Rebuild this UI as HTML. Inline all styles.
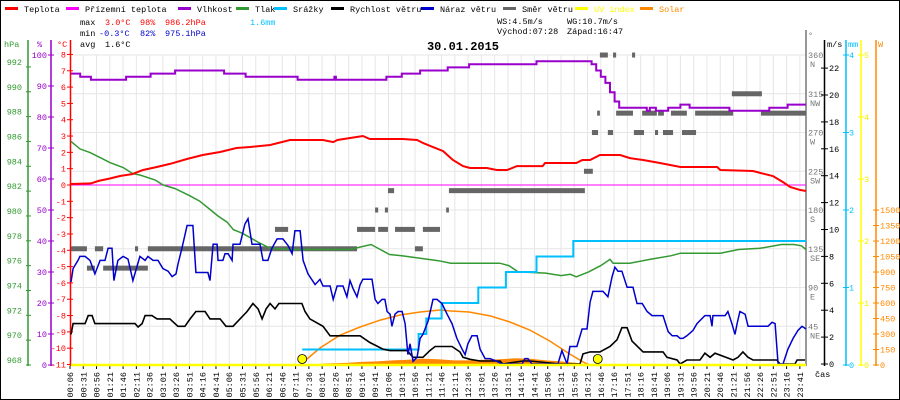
<!DOCTYPE html>
<html><head><meta charset="utf-8"><style>
html,body{margin:0;padding:0;background:#fff;}
svg{display:block;font-family:"Liberation Mono",monospace;}
</style></head><body>
<svg id="chart" width="900" height="400" viewBox="0 0 900 400" xmlns="http://www.w3.org/2000/svg">
<rect x="0.5" y="0.5" width="899" height="399" fill="#fff" stroke="#000"/>
<g id="grid"></g>
<g id="legend" font-size="8.5"></g>
<g font-size="8.5">
<text x="80" y="25" fill="#000">max</text><text x="105" y="25" fill="#f00">3.0°C</text><text x="140" y="25" fill="#f00">98%</text><text x="165" y="25" fill="#f00">986.2hPa</text><text x="250" y="25" fill="#00bfff">1.6mm</text>
<text x="80" y="36" fill="#000">min</text><text x="99" y="36" fill="#0000cc">-0.3°C</text><text x="140" y="36" fill="#0000cc">82%</text><text x="165" y="36" fill="#0000cc">975.1hPa</text>
<text x="80" y="47" fill="#000">avg</text><text x="105" y="47" fill="#000">1.6°C</text>
<text x="497" y="24" fill="#000">WS:4.5m/s</text><text x="567" y="24" fill="#000">WG:10.7m/s</text>
<text x="497" y="34" fill="#000">Východ:07:28</text><text x="567" y="34" fill="#000">Západ:16:47</text>
</g>
<text x="463" y="50" text-anchor="middle" font-size="12" font-weight="bold" fill="#000">30.01.2015</text>
<g id="axes" font-size="8.5"></g>
<g id="series"></g>
</svg>
<script>
// ---- data ----
const timeLabels=["00:06","00:31","00:56","01:21","01:46","02:11","02:36","03:01","03:26","03:51","04:16","04:41","05:06","05:31","05:56","06:21","06:46","07:11","07:36","08:01","08:26","08:51","09:16","09:41","10:06","10:31","10:56","11:21","11:46","12:11","12:36","13:01","13:26","13:51","14:16","14:41","15:06","15:31","15:56","16:21","16:46","17:16","17:51","18:16","18:41","19:06","19:31","19:56","20:21","20:46","21:21","21:56","22:26","22:51","23:16","23:41"];
const tempT=[0,0.65,0.9,1.27,1.6,2.0,2.35,2.8,3.23,3.8,4.3,4.87,5.4,5.85,6.5,7.15,8.23,8.56,8.7,9.53,9.76,10.84,11.3,11.5,11.72,12.15,12.47,12.8,13.03,13.58,13.9,14.24,14.56,15.4,15.48,16.5,16.7,16.95,17.27,17.93,18.25,18.68,19.23,19.9,21.1,21.2,22.27,22.5,22.92,23.25,23.48,23.8,24];
const tempV=[0.06,0.1,0.25,0.4,0.55,0.67,0.92,1.1,1.29,1.6,1.84,2.02,2.27,2.33,2.45,2.76,2.76,2.63,2.76,3.0,2.82,2.82,2.76,2.57,2.4,2.08,1.53,1.16,1.04,1.04,0.92,0.92,1.16,1.16,1.35,1.35,1.53,1.53,1.84,1.84,1.65,1.53,1.35,1.1,1.1,0.92,0.86,0.74,0.55,0.18,-0.12,-0.3,-0.37];
const humT=[0,0.3,0.65,1.8,2.6,3.4,5.0,5.7,7.4,8.6,8.65,10.3,10.8,11.4,12.3,13.0,15.2,17.0,17.15,17.3,17.45,17.6,17.75,17.9,18.8,18.9,19.1,19.5,19.9,20.2,21.5,22.8,23.4,24];
const humV=[94,93,92,93,94,95,94,93,92,93,92,93,94,95,96,97,98,97,95,93,91,88,85,83,82,83,82,83,84,83,82,83,84,84];
const presT=[0,0.29,0.62,0.95,1.27,1.7,2.02,2.25,2.74,3.0,3.4,3.9,4.2,4.5,4.8,5.1,5.3,5.6,6.1,6.5,7.2,9.1,9.8,10.1,10.4,10.8,11.4,12.0,12.4,13.3,14.0,14.3,14.6,15.5,16.0,16.3,16.5,16.9,17.3,17.6,17.7,17.8,18.25,18.9,19.6,19.9,21.2,21.8,22.5,23.2,23.6,23.85,24];
const presV=[986.0,985.4,985.1,984.7,984.3,983.9,983.4,983.3,982.9,982.5,982.2,981.6,981.2,980.6,980.0,979.5,978.9,978.6,977.9,977.4,977.3,977.3,977.7,977.3,976.9,976.8,976.6,976.4,976.2,976.2,976.2,976.0,975.5,975.4,975.2,975.3,975.1,975.5,976.0,976.5,976.2,976.2,976.2,976.5,976.8,977.0,977.0,977.3,977.4,977.7,977.7,977.6,977.3];
const rainT=[7.55,11.35,11.6,12.1,13.3,14.2,15.2,16.4,24];
const rainV=[0.2,0.4,0.6,0.8,1.0,1.2,1.4,1.6,1.6];
const speedT=[0,0.07,0.46,0.56,0.69,0.78,2.09,2.19,2.32,2.42,2.64,2.81,3.23,3.49,3.72,3.89,4.08,4.38,4.54,4.87,5.06,5.29,5.52,5.75,5.94,6.11,6.24,6.37,6.5,6.66,6.79,7.54,7.64,7.8,8.23,8.46,9.44,9.76,10.19,10.42,10.97,11.17,11.49,11.72,11.89,12.44,12.7,12.8,13.03,13.36,14.01,14.1,14.76,14.99,15.97,16.62,16.72,16.95,17.27,17.6,17.83,17.99,18.16,18.32,18.68,19.33,19.46,19.79,19.89,20.11,20.54,20.7,20.87,21.03,21.62,21.78,21.94,22.11,22.27,23.05,23.15,23.64,23.71,23.97];
const speedV=[2.2,3.0,3.0,3.6,3.6,3.0,3.0,2.75,3.0,3.6,3.6,3.35,3.35,2.8,2.8,3.35,3.9,3.9,3.35,3.35,2.8,2.8,3.35,3.9,4.5,4.1,3.35,4.1,4.5,4.1,4.5,4.5,3.9,3.35,2.8,2.1,2.1,1.6,1.1,1.0,1.0,0.5,0.5,1.0,1.3,1.3,0.9,0.5,0.35,0.22,0.22,0,0.22,0.22,0,0,0.75,0.9,0.9,1.3,1.8,2.7,2.7,1.7,0.9,0.9,0.5,0.3,0,0.3,0.3,0.8,0.5,0.8,0.3,0.5,0.9,0.5,0.3,0.3,0,0,0.3,0.3];
const gustT=[0,0.07,0.23,0.29,0.46,0.62,0.78,0.95,1.11,1.21,1.34,1.40,1.53,1.70,1.86,2.02,2.25,2.42,2.51,2.68,2.84,3.0,3.17,3.30,3.43,3.49,3.62,3.79,3.98,4.08,4.47,4.54,4.64,4.77,4.80,4.96,5.03,5.13,5.26,5.29,5.52,5.68,5.78,5.91,6.17,6.27,6.43,6.56,6.73,6.92,7.09,7.22,7.31,7.48,7.58,7.74,7.97,8.13,8.23,8.46,8.56,8.69,8.88,9.01,9.11,9.21,9.34,9.44,9.53,9.83,9.93,10.02,10.16,10.25,10.32,10.42,10.48,10.58,10.68,10.81,10.91,11.0,11.07,11.17,11.3,11.4,11.49,11.66,11.82,11.95,12.11,12.28,12.44,12.6,12.77,12.87,12.96,13.09,13.26,13.36,13.52,13.68,13.91,14.07,14.73,14.82,14.92,15.05,15.9,16.03,16.13,16.2,16.29,16.52,16.69,16.85,16.95,17.04,17.37,17.53,17.67,17.76,17.86,17.99,18.16,18.35,18.48,18.65,18.81,18.97,19.33,19.5,19.63,19.79,19.89,19.98,20.11,20.31,20.44,20.7,20.87,20.93,20.96,21.36,21.45,21.58,21.68,21.75,21.84,22.01,22.11,22.76,22.89,22.99,23.09,23.25,23.41,23.58,23.74,23.87,24.0];
const gustV=[6.1,7.1,7.7,8.0,8.0,7.7,6.7,7.7,7.7,8.6,8.6,6.2,7.7,8.0,7.8,6.2,8.0,7.7,8.0,7.7,7.7,7.1,6.9,6.5,6.7,7.4,8.6,10.3,10.3,6.8,6.8,6.2,8.9,8.9,7.7,7.7,8.2,8.2,7.7,8.9,8.9,10.4,10.8,8.9,8.9,7.7,7.7,8.6,9.3,9.3,8.8,8.2,9.9,9.9,7.7,6.7,5.9,6.3,5.8,5.8,4.8,5.8,5.8,5.0,6.2,5.6,5.0,5.9,6.3,6.3,4.8,4.5,4.8,4.8,3.9,3.7,2.8,3.7,3.9,3.9,3.0,0.7,1.5,0.2,0.5,1.9,2.2,3.2,4.8,4.8,4.5,3.7,3.0,1.9,1.1,0.7,1.5,2.1,2.1,1.1,0.4,0.4,0.2,0,0,0.4,0.4,0,0,1.0,0.4,0,1.3,1.3,2.6,2.6,4.6,5.4,5.4,5.0,6.5,7.2,6.9,6.9,5.7,5.7,4.5,4.5,3.9,3.6,3.6,2.4,2.1,2.1,1.9,1.9,2.1,2.5,3.0,3.6,3.6,2.8,3.6,3.6,3.9,3.0,2.2,3.0,3.9,3.7,2.8,2.8,3.1,3.0,0,0,1.1,1.9,2.5,2.8,2.6];
const dirStart=[0,0.52,0.78,1.05,2.09,2.51,6.66,9.34,9.93,10.03,10.25,10.35,10.58,11.23,11.49,12.25,12.34,16.75,17.01,17.18,17.27,17.53,17.7,17.8,18.32,18.38,18.65,19.07,19.17,19.33,19.59,19.95,20.38,21.58,22.53];
const dirEnd=[0.52,0.78,1.05,2.51,2.19,9.34,7.09,9.93,10.03,10.35,10.35,10.55,11.23,11.49,12.05,12.34,16.78,17.04,17.21,17.27,17.53,17.7,17.8,18.35,18.42,18.71,19.13,19.17,19.36,19.66,20.11,20.41,21.62,22.56,24];
const dirDeg=[135,112.5,135,112.5,135,135,157.5,157.5,180,157.5,180,202.5,157.5,135,157.5,180,202.5,225,270,292.5,360,270,360,292.5,360,270,292.5,270,292.5,270,292.5,270,292.5,315,292.5];
const solarT=[7.55,8.13,8.79,9.44,10.1,10.74,11.4,12.05,12.4,13.0,13.7,14.33,14.98,15.63,16.29,16.78,16.95];
const solarV=[19,165,290,368,435,484,513,532,523,513,474,416,339,232,106,19,0];
const solarMT=[7.8,8.3,9,9.5,10,10.5,11,11.5,12,12.5,13,13.5,14,14.5,15,15.5,16,16.5,17];
const solarMV=[0,15,20,30,35,45,50,60,55,45,45,50,55,65,60,45,35,20,0];
const sunEvents=[7.55,17.2];
const pTicks=[992,990,988,986,984,982,980,978,976,974,972,970,968];
const hTicks=[100,90,80,70,60,50,40,30,20,10,0];
const degTicks=[360,315,270,225,180,135,90,45];
const degNames=["N","NW","W","SW","S","SE","E","NE"];

// ---- scales ----
const X=h=>71+h*30.625;
const YT=t=>185-t*16.32;
const YP=p=>365-(p-968)*12.42;
const YH=v=>365-v*3.1;
const YW=v=>364-v*13.45;
const YM=v=>365-v*77.5;
const YD=d=>365-d*0.861;
const YS=w=>365-w*0.1033;
const YU=u=>365-u*62;

const NS="http://www.w3.org/2000/svg";
function mk(parent,tag,attrs,txt){const e=document.createElementNS(NS,tag);for(const k in attrs)e.setAttribute(k,attrs[k]);if(txt!==undefined)e.textContent=txt;parent.appendChild(e);return e;}
const grid=document.getElementById('grid'),axes=document.getElementById('axes'),series=document.getElementById('series'),legend=document.getElementById('legend');

for(let i=1;i<56;i++){const x=70+13.27*i;const l=mk(grid,'line',{x1:x,y1:55,x2:x,y2:365,stroke:'#e6e6e6'});

}
for(let k=0;k<8;k++){const y=55+38.75*k;const l=mk(grid,'line',{x1:71,y1:y,x2:806,y2:y,stroke:'#e6e6e6'});

}

const legItems=[["Teplota","#f00","#000",5],["Přízemní teplota","#f0f","#000",66],["Vlhkost","#90c","#000",178],["Tlak","#393","#000",236],["Srážky","#00bfff","#000",274],["Rychlost větru","#000","#000",331],["Náraz větru","#00c","#000",421],["Směr větru","#666","#000",503],["UV index","#ff0","#ff0",575],["Solar","#f80","#f80",640]];
legItems.forEach(it=>{const g=mk(legend,'g',{});


mk(g,'rect',{x:it[3],y:7,width:13,height:3,fill:it[1]});mk(g,'text',{x:it[3]+19,y:12,fill:it[2]},it[0]);});

function axisLine(x,c,y1){return mk(axes,'line',{x1:x,y1:y1,x2:x,y2:366,stroke:c,'stroke-width':1.5});}
let a=axisLine(28,'#393',40);
a=axisLine(51,'#90c',40);
a=axisLine(70.5,'#f00',40);
mk(axes,'text',{x:4,y:47,fill:'#393'},'hPa');mk(axes,'text',{x:37,y:47,fill:'#90c'},'%');mk(axes,'text',{x:57,y:47,fill:'#f00'},'°C');
pTicks.forEach(p=>{const y=YP(p);mk(axes,'line',{x1:26,y1:y,x2:31,y2:y,stroke:'#393'});const t=mk(axes,'text',{x:22,y:y-2,fill:'#393','text-anchor':'end'},p);

});
hTicks.forEach(h=>{const y=YH(h);mk(axes,'line',{x1:48,y1:y,x2:54,y2:y,stroke:'#90c'});const t=mk(axes,'text',{x:47,y:y+3,fill:'#90c','text-anchor':'end'},h);

});
for(let c=8;c>=-11;c--){const y=YT(c);mk(axes,'line',{x1:67,y1:y,x2:73,y2:y,stroke:'#f00'});const t=mk(axes,'text',{x:66,y:y+3,fill:'#f00','text-anchor':'end'},c);

}

a=axisLine(806,'#777',30);
a=axisLine(824.5,'#000',40);
a=axisLine(846,'#00bfff',40);
a=axisLine(861,'#ff0',40);
a=axisLine(876,'#f80',40);
mk(axes,'text',{x:808,y:38,fill:'#777'},'°');mk(axes,'text',{x:827,y:47,fill:'#000'},'m/s');mk(axes,'text',{x:848,y:47,fill:'#00bfff'},'mm');mk(axes,'text',{x:878,y:47,fill:'#f80'},'W');
mk(axes,'text',{x:815,y:377,fill:'#000'},'čas');
degTicks.forEach((d,i)=>{const y=YD(d);const t=mk(axes,'text',{x:808,y:y+3,fill:'#777'},d);


mk(axes,'text',{x:810,y:y+12,fill:'#777'},degNames[i]);});
for(let v=0;v<=22;v+=2){const y=YW(v);mk(axes,'line',{x1:821,y1:y,x2:828,y2:y,stroke:'#000'});const t=mk(axes,'text',{x:829,y:y+3,fill:'#000'},v);

}
for(let v=0;v<=4;v++){const y=YM(v);mk(axes,'line',{x1:843,y1:y,x2:849,y2:y,stroke:'#00bfff'});mk(axes,'text',{x:849,y:y+3,fill:'#00bfff'},v);}
for(let v=0;v<=5;v++){const y=YU(v);mk(axes,'line',{x1:858,y1:y,x2:864,y2:y,stroke:'#ff0'});mk(axes,'text',{x:864,y:y+3,fill:'#ee0'},v);}
for(let v=0;v<=1500;v+=150){const y=YS(v);mk(axes,'line',{x1:873,y1:y,x2:879,y2:y,stroke:'#f80'});mk(axes,'text',{x:880,y:y+3,fill:'#f80'},v);}

timeLabels.forEach((s,i)=>{const x=68+13.27*i;mk(axes,'line',{x1:x+2,y1:366,x2:x+2,y2:369,stroke:'#000'});
const t=mk(axes,'text',{transform:`translate(${x+5},372) rotate(-90)`,'text-anchor':'end',fill:'#000'},s);

});

function pts(T,V,fy){return T.map((t,i)=>X(t).toFixed(1)+','+fy(V[i]).toFixed(1)).join(' ');}
function stepPts(T,V,fy){let o=[];T.forEach((t,i)=>{if(i>0)o.push(X(t).toFixed(1)+','+fy(V[i-1]).toFixed(1));o.push(X(t).toFixed(1)+','+fy(V[i]).toFixed(1));});return o.join(' ');}

let s=mk(series,'polygon',{points:X(solarMT[0])+','+YS(0)+' '+pts(solarMT,solarMV,YS)+' '+X(solarMT[solarMT.length-1])+','+YS(0),fill:'#f80'});


dirDeg.forEach((d,i)=>{const r=mk(series,'rect',{x:X(dirStart[i]),y:YD(d)-2.5,width:Math.max(2,X(dirEnd[i])-X(dirStart[i])),height:5,fill:'#666'});

});
s=mk(series,'line',{x1:71,y1:YT(0),x2:806,y2:YT(0),stroke:'#f0f'});


s=mk(series,'polyline',{points:pts(presT,presV,YP),fill:'none',stroke:'#393','stroke-width':1.5});


s=mk(series,'polyline',{points:pts(solarT,solarV,YS),fill:'none',stroke:'#f80','stroke-width':1.5});


s=mk(series,'polyline',{points:stepPts(rainT,rainV,YM),fill:'none',stroke:'#00bfff','stroke-width':2});


s=mk(series,'polyline',{points:pts(speedT,speedV,YW),fill:'none',stroke:'#000','stroke-width':1.6});


s=mk(series,'polyline',{points:pts(gustT,gustV,YW),fill:'none',stroke:'#00c','stroke-width':1.5});


s=mk(series,'polyline',{points:stepPts(humT,humV,YH),fill:'none',stroke:'#90c','stroke-width':2});


s=mk(series,'polyline',{points:pts(tempT,tempV,YT),fill:'none',stroke:'#f00','stroke-width':2});


s=mk(series,'line',{x1:71,y1:365,x2:806,y2:365,stroke:'#ff0','stroke-width':2.5});


sunEvents.forEach(h=>{const c=mk(series,'circle',{cx:X(h),cy:359,r:4.5,fill:'#ff0',stroke:'#000','stroke-width':0.8});

});
</script>
</body></html>
